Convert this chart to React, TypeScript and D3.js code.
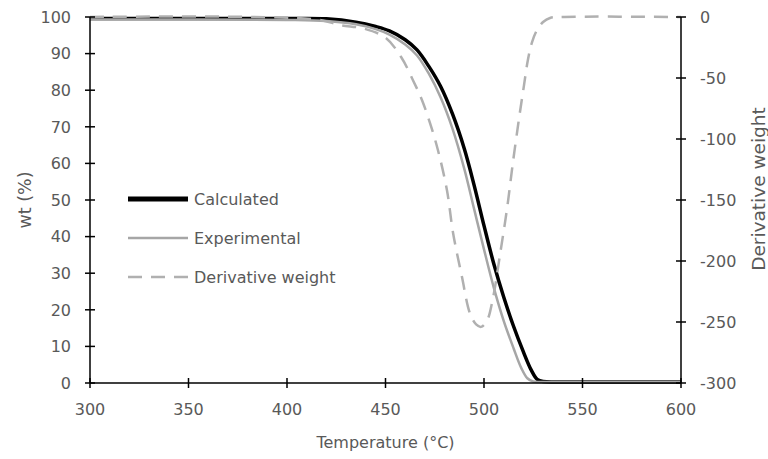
import React from 'react'
import * as d3 from 'd3'

// temperature (°C) / wt (%)
const calcT = [300, 400, 420, 435, 445, 452, 460, 466, 472, 478, 484, 490, 495, 500, 505, 510, 515, 520, 524, 527, 530, 540, 600]
const calcW = [99.6, 99.6, 99.5, 98.6, 97.4, 96.2, 93.8, 91, 86.5, 81, 73.5, 64, 54, 43, 32.5, 23.5, 15.5, 8.5, 3.5, 1, 0.4, 0.3, 0.3]

const expT = [300, 400, 420, 435, 445, 452, 460, 466, 472, 478, 484, 490, 495, 500, 505, 510, 515, 519, 522, 525, 530, 600]
const expW = [99.3, 99.2, 98.9, 98, 96.7, 95.2, 92.5, 89.5, 84.5, 78, 69.5, 58.5, 47.5, 36.5, 26, 17, 9.5, 4, 1.3, 0.4, 0.3, 0.3]

// derivative weight on the right axis
const derT = [300, 415, 427, 439, 450, 458, 464, 468.5, 472.6, 476.6, 481.2, 484.3, 488.8, 492.9, 496, 498.5, 501.5, 504.6, 508.1, 511.7, 514.7, 517.8, 520.3, 522.3, 524.4, 526.9, 530, 533.5, 538.6, 600]
const derV = [0, -2, -6.6, -9.5, -17, -33, -52, -68, -87, -109, -142, -177, -213, -243, -252, -254, -249, -230, -195, -157, -119, -83, -56, -35, -20.5, -10.7, -4.1, -0.8, 0, 0]

const xTicks = [300, 350, 400, 450, 500, 550, 600]
const yTicks = [0, 10, 20, 30, 40, 50, 60, 70, 80, 90, 100]
const y2Ticks = [0, -50, -100, -150, -200, -250, -300]

const legend = ['Calculated', 'Experimental', 'Derivative weight']

const W = 768, H = 459
const m = { left: 90, right: 87, top: 17, bottom: 76 }
const font = 'DejaVu Sans, sans-serif'
const textColor = '#595959'

export default function App() {
  const x = d3.scaleLinear().domain([300, 600]).range([m.left, W - m.right])
  const y = d3.scaleLinear().domain([0, 100]).range([H - m.bottom, m.top])
  const y2 = d3.scaleLinear().domain([-300, 0]).range([H - m.bottom, m.top])

  const curve = d3.curveCatmullRom.alpha(0.5)
  const line = d3.line<[number, number]>().x(d => x(d[0])).y(d => y(d[1])).curve(curve)
  const line2 = d3.line<[number, number]>().x(d => x(d[0])).y(d => y2(d[1])).curve(curve)

  const calc = calcT.map((t, i) => [t, calcW[i]] as [number, number])
  const exp = expT.map((t, i) => [t, expW[i]] as [number, number])
  const der = derT.map((t, i) => [t, derV[i]] as [number, number])

  const x0 = x(300), x1 = x(600), yb = y(0)
  const mid = (y(100) + yb) / 2

  const styles = [
    { stroke: '#000', width: 3.5, dash: undefined },
    { stroke: '#a6a6a6', width: 2.5, dash: undefined },
    { stroke: '#b0b0b0', width: 2.5, dash: '14,9' },
  ]

  return (
    <svg width={W} height={H} style={{ position: 'absolute', left: 0, top: 0 }} fontFamily={font}>
      <rect width={W} height={H} fill="#fff" />

      <path d={line(calc) || ''} fill="none" stroke={styles[0].stroke} strokeWidth={styles[0].width} />
      <path d={line(exp) || ''} fill="none" stroke={styles[1].stroke} strokeWidth={styles[1].width} />
      <path d={line2(der) || ''} fill="none" stroke={styles[2].stroke} strokeWidth={styles[2].width} strokeDasharray={styles[2].dash} />

      {/* axes */}
      <line x1={x0} x2={x0} y1={y(100)} y2={yb} stroke="#000" strokeWidth={1.5} />
      <line x1={x1} x2={x1} y1={y(100)} y2={yb} stroke="#000" strokeWidth={1.5} />
      <line x1={x0} x2={x1} y1={yb} y2={yb} stroke="#000" strokeWidth={1.5} />

      {yTicks.map(t => (
        <g key={'y' + t}>
          <line x1={x0 - 5} x2={x0 + 5} y1={y(t)} y2={y(t)} stroke="#000" strokeWidth={1.5} />
          <text x={x0 - 19} y={y(t)} dy="0.36em" textAnchor="end" fontSize={16} fill={textColor}>{t}</text>
        </g>
      ))}
      {y2Ticks.map(t => (
        <g key={'r' + t}>
          <line x1={x1 - 5} x2={x1 + 5} y1={y2(t)} y2={y2(t)} stroke="#000" strokeWidth={1.5} />
          <text x={x1 + 19} y={y2(t)} dy="0.36em" textAnchor="start" fontSize={16} fill={textColor}>{t}</text>
        </g>
      ))}
      {xTicks.map(t => (
        <g key={'x' + t}>
          <line x1={x(t)} x2={x(t)} y1={yb - 5} y2={yb + 5} stroke="#000" strokeWidth={1.5} />
          <text x={x(t)} y={yb + 32} textAnchor="middle" fontSize={16} fill={textColor}>{t}</text>
        </g>
      ))}

      <text x={(x0 + x1) / 2} y={448} textAnchor="middle" fontSize={16} fill={textColor}>Temperature (°C)</text>
      <text transform={`translate(31,${mid}) rotate(-90)`} textAnchor="middle" fontSize={17.5} fill={textColor}>wt (%)</text>
      <text transform={`translate(765,${mid - 11}) rotate(-90)`} textAnchor="middle" fontSize={18.5} fill={textColor}>Derivative weight</text>

      {legend.map((name, i) => {
        const ly = 199 + i * 39
        return (
          <g key={name}>
            <line x1={128} x2={188} y1={ly} y2={ly} stroke={styles[i].stroke} strokeWidth={i === 0 ? 5 : styles[i].width} strokeDasharray={styles[i].dash} />
            <text x={194} y={ly} dy="0.36em" fontSize={16} fill={textColor}>{name}</text>
          </g>
        )
      })}
    </svg>
  )
}
